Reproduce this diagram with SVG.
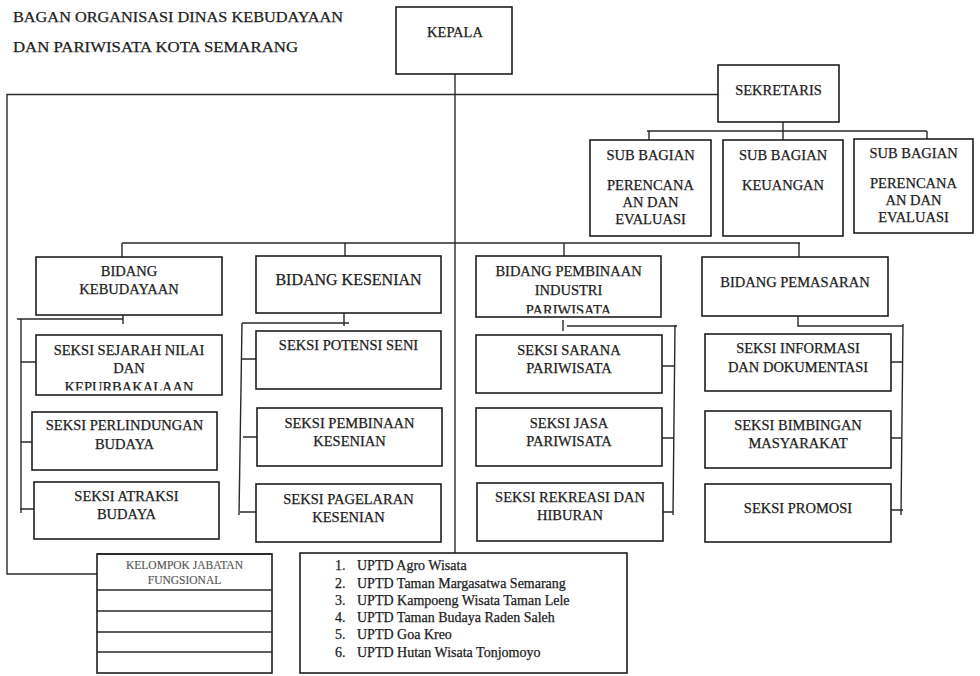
<svg xmlns="http://www.w3.org/2000/svg" width="980" height="676" viewBox="0 0 980 676">
<defs>
<style>
.box{fill:#fff;stroke:#1e1e1e;stroke-width:1.6}
.ln{fill:none;stroke:#2a2a2a;stroke-width:1.4}
text{font-family:"Liberation Serif","Times New Roman",serif;fill:#1c1c1c;stroke:#1c1c1c;stroke-width:0.25}
.t{font-size:14.5px;text-anchor:middle}
.big{font-size:16px;text-anchor:middle}
.title{font-size:15px}
.small{font-size:11.5px;text-anchor:middle;fill:#555;stroke:#555;stroke-width:0.15}
.list{font-size:14px}
</style>
<clipPath id="clipBP"><rect x="476" y="256" width="185" height="57.5"/></clipPath>
<clipPath id="clipK1"><rect x="36" y="335" width="186" height="55.5"/></clipPath>
</defs>
<rect width="980" height="676" fill="#fff"/>

<g id="title">
<text class="title" x="13" y="21.5" textLength="330" lengthAdjust="spacingAndGlyphs">BAGAN ORGANISASI DINAS KEBUDAYAAN</text>
<text class="title" x="13" y="51.5" textLength="285" lengthAdjust="spacingAndGlyphs">DAN PARIWISATA KOTA SEMARANG</text>
</g>

<g id="connectors">
<path class="ln" d="M455,74 V553"/>
<path class="ln" d="M718,94.5 H7 V574 H97"/>
<path class="ln" d="M783,122 V131 M647,131 H927 M649,131 V140 M783,131 V140 M927,131 V139"/>
<path class="ln" d="M122,243 H800 M122,243 V257 M345,243 V256 M564,243 V256 M799,243 V257"/>
<path class="ln" d="M123,315 V324 M17,319 H123 M21,319 V513 M21,362 H36 M21,442 H32 M20,509 H34"/>
<path class="ln" d="M344,313 V326 M242,323 H349 M242,323 L239,515 M242,359 H256 M243,437 H257 M240,512 H256"/>
<path class="ln" d="M563,320 V331 M567,326 H677 M675,325 L673,515 M662,366 H675 M659,438 H674 M662,512 H673"/>
<path class="ln" d="M798,315 V326 H903 M903,324 L901,515 M887,362 H902 M887,438 H901 M891,510 H903"/>
</g>

<g id="kepala"><rect class="box" x="396" y="7" width="116" height="67"/><text class="t" x="455" y="37">KEPALA</text></g>
<g id="sekretaris"><rect class="box" x="718" y="65" width="121" height="57"/><text class="t" x="778.5" y="95">SEKRETARIS</text></g>

<g id="subbag-perencanaan-1"><rect class="box" x="590" y="140" width="121" height="96"/>
<text class="t" x="650.5" y="160">SUB BAGIAN</text><text class="t" x="650.5" y="190">PERENCANA</text><text class="t" x="650.5" y="207">AN DAN</text><text class="t" x="650.5" y="224">EVALUASI</text></g>
<g id="subbag-keuangan"><rect class="box" x="723" y="140" width="120" height="96"/>
<text class="t" x="783" y="160">SUB BAGIAN</text><text class="t" x="783" y="190">KEUANGAN</text></g>
<g id="subbag-perencanaan-2"><rect class="box" x="854" y="139" width="119" height="94"/>
<text class="t" x="913.5" y="158">SUB BAGIAN</text><text class="t" x="913.5" y="188">PERENCANA</text><text class="t" x="913.5" y="205">AN DAN</text><text class="t" x="913.5" y="222">EVALUASI</text></g>

<g id="bidang-kebudayaan"><rect class="box" x="36" y="257" width="186" height="58"/>
<text class="t" x="129" y="276">BIDANG</text><text class="t" x="129" y="294">KEBUDAYAAN</text></g>
<g id="bidang-kesenian"><rect class="box" x="256" y="256" width="185" height="57"/>
<text class="big" x="348.5" y="284.5">BIDANG KESENIAN</text></g>
<g id="bidang-pembinaan"><rect class="box" x="476" y="256" width="185" height="61"/>
<text class="t" x="568.5" y="276">BIDANG PEMBINAAN</text><text class="t" x="568.5" y="295">INDUSTRI</text>
<text class="t" x="568.5" y="315" clip-path="url(#clipBP)">PARIWISATA</text></g>
<g id="bidang-pemasaran"><rect class="box" x="702" y="257" width="186" height="59"/>
<text class="t" x="795" y="287">BIDANG PEMASARAN</text></g>

<g id="seksi-sejarah"><rect class="box" x="36" y="335" width="186" height="60"/>
<text class="t" x="129" y="355">SEKSI SEJARAH NILAI</text><text class="t" x="129" y="373">DAN</text>
<text class="t" x="129" y="392" clip-path="url(#clipK1)">KEPURBAKALAAN</text></g>
<g id="seksi-perlindungan"><rect class="box" x="32" y="412" width="185" height="58"/>
<text class="t" x="124.5" y="430">SEKSI PERLINDUNGAN</text><text class="t" x="124.5" y="449">BUDAYA</text></g>
<g id="seksi-atraksi"><rect class="box" x="34" y="482" width="185" height="57"/>
<text class="t" x="126.5" y="501">SEKSI ATRAKSI</text><text class="t" x="126.5" y="519">BUDAYA</text></g>

<g id="seksi-potensi"><rect class="box" x="256" y="331" width="185" height="58"/>
<text class="t" x="348.5" y="350">SEKSI POTENSI SENI</text></g>
<g id="seksi-pembinaan-kesenian"><rect class="box" x="257" y="408" width="185" height="58"/>
<text class="t" x="349.5" y="428">SEKSI PEMBINAAN</text><text class="t" x="349.5" y="446">KESENIAN</text></g>
<g id="seksi-pagelaran"><rect class="box" x="256" y="484" width="185" height="58"/>
<text class="t" x="348.5" y="504">SEKSI PAGELARAN</text><text class="t" x="348.5" y="522">KESENIAN</text></g>

<g id="seksi-sarana"><rect class="box" x="476" y="335" width="186" height="58"/>
<text class="t" x="569" y="355">SEKSI SARANA</text><text class="t" x="569" y="373">PARIWISATA</text></g>
<g id="seksi-jasa"><rect class="box" x="476" y="408" width="186" height="58"/>
<text class="t" x="569" y="428">SEKSI JASA</text><text class="t" x="569" y="446">PARIWISATA</text></g>
<g id="seksi-rekreasi"><rect class="box" x="477" y="483" width="186" height="58"/>
<text class="t" x="570" y="502">SEKSI REKREASI DAN</text><text class="t" x="570" y="520">HIBURAN</text></g>

<g id="seksi-informasi"><rect class="box" x="705" y="334" width="186" height="57"/>
<text class="t" x="798" y="353">SEKSI INFORMASI</text><text class="t" x="798" y="372">DAN DOKUMENTASI</text></g>
<g id="seksi-bimbingan"><rect class="box" x="705" y="411" width="186" height="57"/>
<text class="t" x="798" y="430">SEKSI BIMBINGAN</text><text class="t" x="798" y="448">MASYARAKAT</text></g>
<g id="seksi-promosi"><rect class="box" x="705" y="484" width="186" height="58"/>
<text class="t" x="798" y="513">SEKSI PROMOSI</text></g>

<g id="kelompok-jabatan-fungsional">
<rect class="box" x="97" y="554" width="175" height="119"/>
<path class="ln" d="M97,554 H272" style="stroke-width:2.2"/>
<path class="ln" d="M97,590 H272 M97,611 H272 M97,632 H272 M97,652 H272"/>
<text class="small" x="184.5" y="569">KELOMPOK JABATAN</text>
<text class="small" x="184.5" y="584">FUNGSIONAL</text>
</g>

<g id="uptd">
<rect class="box" x="300" y="553" width="327" height="120"/>
<text class="list" x="335" y="570">1.</text><text class="list" x="357" y="570">UPTD Agro Wisata</text>
<text class="list" x="335" y="588">2.</text><text class="list" x="357" y="588">UPTD Taman Margasatwa Semarang</text>
<text class="list" x="335" y="604.5">3.</text><text class="list" x="357" y="604.5">UPTD Kampoeng Wisata Taman Lele</text>
<text class="list" x="335" y="622">4.</text><text class="list" x="357" y="622">UPTD Taman Budaya Raden Saleh</text>
<text class="list" x="335" y="639">5.</text><text class="list" x="357" y="639">UPTD Goa Kreo</text>
<text class="list" x="335" y="656.5">6.</text><text class="list" x="357" y="656.5">UPTD Hutan Wisata Tonjomoyo</text>
</g>
</svg>
